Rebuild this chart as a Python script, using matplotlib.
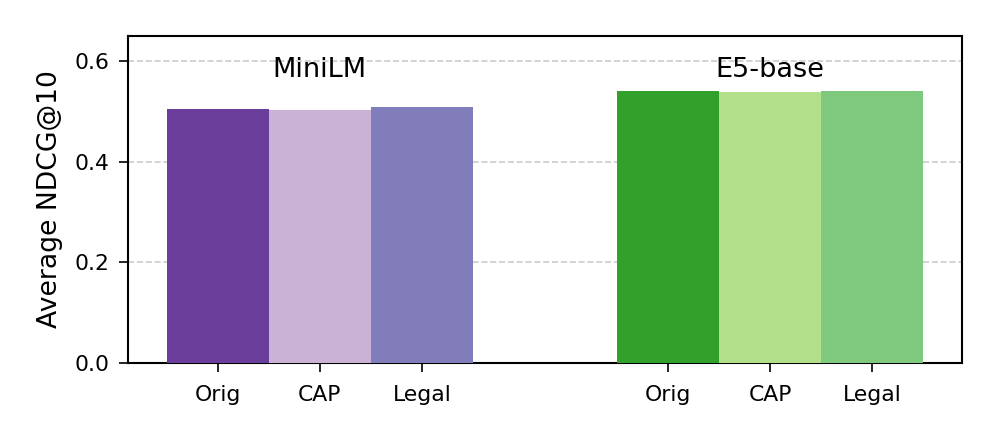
import matplotlib
matplotlib.use("Agg")
import matplotlib.pyplot as plt
import numpy as np

models = ["MiniLM", "E5-base"]
variants = ["Orig", "CAP", "Legal"]
minilm_scores = [0.504, 0.503, 0.508]
e5_scores = [0.540, 0.539, 0.541]
minilm_colors = ["#6a3d9a", "#cab2d6", "#807dba"]
e5_colors = ["#33a02c", "#b2df8a", "#7fc97f"]

fig = plt.figure(figsize=(997/150, 439/150), dpi=150)
ax = fig.add_axes([128/997, 1-363/439, (962-128)/997, (363-36)/439])

group_starts = [0.0, 4.41]
all_scores = [minilm_scores, e5_scores]
all_colors = [minilm_colors, e5_colors]
xticks = []
xlabels = []
for g, (start, scores, cols) in enumerate(zip(group_starts, all_scores, all_colors)):
    xs = start + np.arange(len(variants))
    ax.bar(xs, scores, width=1.0, color=cols, zorder=3)
    xticks.extend(xs)
    xlabels.extend(variants)
    ax.text(xs[1], 0.582, models[g], ha="center", va="center", fontsize=13, zorder=4)

ax.set_xticks(xticks)
ax.set_xticklabels(xlabels, fontsize=10.5)
ax.set_xlim(-0.88, 7.29)
ax.set_ylim(0, 0.65)
ax.set_yticks([0.0, 0.2, 0.4, 0.6])
ax.set_yticklabels(["0.0", "0.2", "0.4", "0.6"], fontsize=10.5)
ax.set_ylabel("Average NDCG@10", fontsize=12.8, labelpad=5.5)
ax.yaxis.grid(True, linestyle="--", color="#cccccc", linewidth=0.8, zorder=0)
ax.tick_params(axis="x", length=4.3, pad=6.2)
ax.tick_params(axis="y", length=4.3, pad=4.5)
for s in ax.spines.values():
    s.set_linewidth(1.0)

fig.savefig("out.png", dpi=150)
